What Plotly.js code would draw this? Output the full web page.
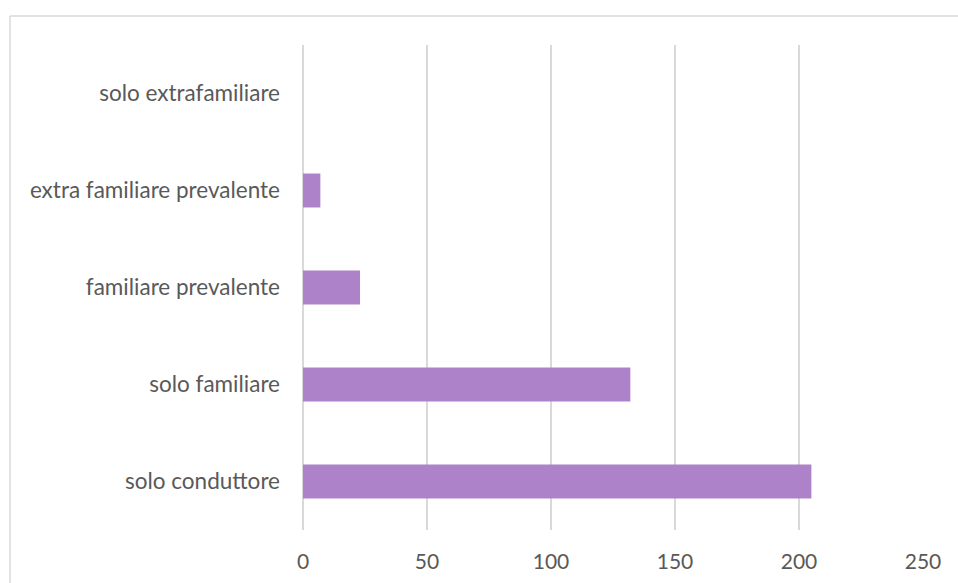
<!DOCTYPE html>
<html>
<head>
<meta charset="utf-8">
<script src="https://cdn.plot.ly/plotly-3.0.1.min.js"></script>
<style>html,body{margin:0;padding:0;background:#fff;}#chart{width:958px;height:583px;}</style>
</head>
<body>
<div id="chart"></div>
<script>
var categories = ["solo conduttore", "solo familiare", "familiare prevalente", "extra familiare prevalente", "solo extrafamiliare"];
var values = [205, 132, 23, 7, 0];
var xTicks = [0, 50, 100, 150, 200, 250];

var trace = {
  type: "bar",
  orientation: "h",
  y: categories,
  x: values,
  marker: {color: "#ae82c8"},
  hoverinfo: "x+y"
};

var layout = {
  width: 958,
  height: 583,
  margin: {l: 303, r: 35, t: 45, b: 53},
  paper_bgcolor: "#ffffff",
  plot_bgcolor: "#ffffff",
  font: {family: "Lato, 'Open Sans', sans-serif", size: 22, color: "#595959"},
  bargap: 0.65,
  showlegend: false,
  xaxis: {
    range: [0, 250],
    tickvals: xTicks,
    ticktext: xTicks.map(String),
    showgrid: true,
    gridcolor: "#d9d9d9",
    gridwidth: 1.5,
    zeroline: true,
    zerolinecolor: "#d9d9d9",
    zerolinewidth: 1.5,
    showline: false,
    ticks: "",
    ticklabelstandoff: 17,
    tickfont: {size: 21, color: "#595959"},
    fixedrange: true
  },
  yaxis: {
    type: "category",
    categoryorder: "array",
    categoryarray: categories,
    showgrid: false,
    zeroline: false,
    showline: false,
    ticks: "",
    ticklabelstandoff: 22,
    tickfont: {size: 22.5, color: "#595959"},
    fixedrange: true
  },
  shapes: [
    {type: "line", xref: "paper", yref: "paper", x0: -0.4726, x1: 1.2, y0: 1.0598, y1: 1.0598,
     line: {color: "#d9d9d9", width: 1.5}},
    {type: "line", xref: "paper", yref: "paper", x0: -0.4726, x1: -0.4726, y0: -0.2, y1: 1.0598,
     line: {color: "#d9d9d9", width: 1.5}}
  ]
};

Plotly.newPlot("chart", [trace], layout, {displayModeBar: false, staticPlot: true});
</script>
</body>
</html>
